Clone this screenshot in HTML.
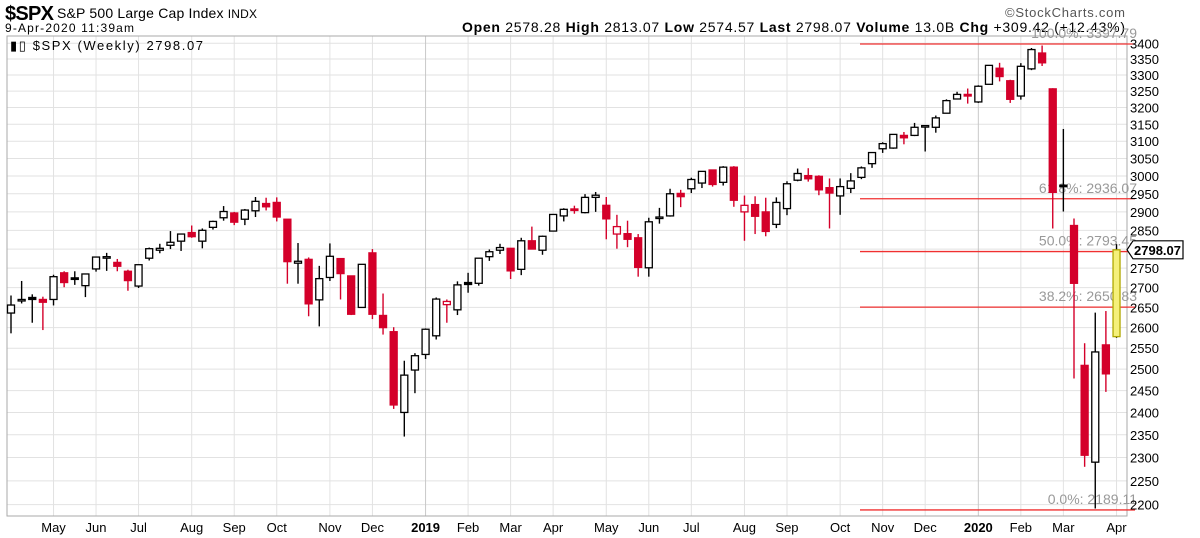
<!DOCTYPE html>
<html><head><meta charset="utf-8"><style>
body{margin:0;background:#fff;}
svg{display:block;font-family:"Liberation Sans",sans-serif;}
</style></head><body>
<svg id="chart" width="1200" height="538" viewBox="0 0 1200 538">
<rect width="1200" height="538" fill="#fff"/>
<g>
<text x="5" y="20" font-size="20" font-weight="bold" textLength="49">$SPX</text>
<text x="57" y="18" font-size="14" textLength="200">S&amp;P 500 Large Cap Index <tspan font-size="12">INDX</tspan></text>
<text x="5" y="32" font-size="12" textLength="129">9-Apr-2020 11:39am</text>
<text x="462" y="32" font-size="14" textLength="663"><tspan font-weight="bold">Open</tspan> 2578.28  <tspan font-weight="bold">High</tspan> 2813.07  <tspan font-weight="bold">Low</tspan> 2574.57  <tspan font-weight="bold">Last</tspan> 2798.07  <tspan font-weight="bold">Volume</tspan> 13.0B  <tspan font-weight="bold">Chg</tspan> +309.42 (+12.43%)</text>
<text x="1005" y="17" font-size="13" fill="#555" textLength="120">©StockCharts.com</text>
</g>
<g id="grid"></g>
<rect x="7" y="36" width="1120" height="480" fill="none" stroke="#aaa"/>
<g id="fib"></g>
<g id="candles"></g>
<g id="yaxis"></g>
<g id="xaxis"></g>
<text x="10" y="50" font-size="13" textLength="193">▮▯ $SPX (Weekly) 2798.07</text>
</svg>
<script>
const opens=[2636,2670,2675,2670,2670,2738,2725,2705,2748,2780,2765,2742,2704,2776,2797,2810,2821,2844,2821,2858,2884,2897,2880,2903,2923,2926,2880,2763,2773,2669,2726,2775,2730,2650,2790,2630,2590,2400,2498,
2535,2580,2657,2644,2713,2711,2780,2797,2802,2747,2822,2797,2848,2889,2908,2898,2940,2918,2840,2841,2830,2751,2885,2889,2951,2964,2980,3017,2982,3025,2900,2920,2900,2866,2909,2988,3001,2999,2967,2944,2965,2996,3035,3078,3080,3117,3117,3144,3141,3183,3226,3240,
3217,3271,3321,3282,3235,3319,3369,3257,2974,2863,2509,2290,2558,2578];
const highs=[2680,2717,2683,2677,2733,2742,2742,2736,2779,2790,2774,2746,2760,2804,2814,2848,2839,2863,2855,2876,2916,2900,2908,2941,2939,2940,2880,2816,2778,2756,2815,2775,2730,2760,2800,2685,2601,2520,2538,
2598,2675,2670,2716,2738,2775,2799,2814,2803,2830,2860,2836,2893,2910,2917,2949,2955,2941,2892,2876,2840,2884,2911,2964,2961,2995,3014,3018,3028,3028,2945,2943,2939,2940,2985,3021,3022,3002,2993,2993,3008,3027,3066,3097,3120,3127,3154,3144,3176,3225,3248,3258,
3268,3329,3338,3285,3337,3385,3393,3259,3136,2882,2562,2637,2641,2813];
const lows=[2586,2660,2612,2594,2655,2701,2707,2676,2741,2743,2742,2692,2699,2770,2789,2800,2795,2830,2802,2852,2876,2864,2864,2886,2904,2874,2710,2710,2628,2603,2717,2670,2631,2650,2621,2583,2408,2346,2444,
2524,2571,2612,2631,2687,2705,2769,2787,2722,2732,2800,2785,2848,2874,2895,2896,2900,2826,2801,2805,2728,2728,2868,2887,2913,2952,2966,2970,2973,2914,2822,2840,2834,2856,2891,2985,2984,2946,2855,2892,2952,2991,3023,3066,3078,3091,3115,3070,3125,3183,3225,3212,
3214,3271,3280,3214,3224,3315,3328,2855,2901,2478,2280,2192,2447,2575];
const closes=[2656,2670,2670,2663,2728,2713,2721,2735,2779,2780,2755,2718,2759,2801,2802,2818,2840,2833,2850,2874,2901,2872,2905,2929,2914,2886,2767,2768,2659,2723,2781,2736,2633,2760,2633,2600,2417,2486,2532,
2596,2671,2665,2707,2708,2776,2793,2804,2743,2822,2800,2834,2893,2907,2905,2940,2946,2881,2860,2826,2752,2873,2886,2950,2942,2990,3013,2976,3025,2932,2918,2888,2847,2926,2978,3007,2992,2961,2952,2970,2986,3023,3067,3093,3120,3110,3141,3146,3169,3221,3240,3235,
3265,3330,3295,3225,3327,3380,3338,2954,2972,2711,2305,2541,2489,2798];
const yTicks=[2200,2250,2300,2350,2400,2450,2500,2550,2600,2650,2700,2750,2800,2850,2900,2950,3000,3050,3100,3150,3200,3250,3300,3350,3400];
const fibLevels=[3397.79,2936.07,2793.45,2650.83,2189.11];
const fibLabels=["100.0%: 3397.79","61.8%: 2936.07","50.0%: 2793.45","38.2%: 2650.83","0.0%: 2189.11"];
const monthNames=["2018","Feb","Mar","Apr","May","Jun","Jul","Aug","Sep","Oct","Nov","Dec"];
const lastPrice=2798.07;

const NS="http://www.w3.org/2000/svg";
const X0=11,STEP=10.63,LTOP=Math.log(3397.79),K=1059.8;
const xs=i=>X0+i*STEP;
const ys=v=>44+(LTOP-Math.log(v))*K;
function mk(tag,attrs,parent){const e=document.createElementNS(NS,tag);for(const k in attrs)e.setAttribute(k,attrs[k]);parent.appendChild(e);return e;}
const grid=document.getElementById('grid'),yax=document.getElementById('yaxis'),xax=document.getElementById('xaxis'),cg=document.getElementById('candles'),fg=document.getElementById('fib');
yTicks.forEach(v=>{
 const l=mk('line',{x1:7,x2:1127,y1:ys(v),y2:ys(v),stroke:'#e2e2e2'},grid);
 
 
 const t=mk('text',{x:1130,y:ys(v)+5,'font-size':13},yax);
 t.textContent=v;
 
 
});
const start=new Date(2018,3,9);
for(let i=0;i<opens.length;i++){
 const d=new Date(start.getTime()+i*7*86400000);
 if(d.getDate()<=7){
  const x=xs(i);
  const l=mk('line',{x1:x,x2:x,y1:36,y2:516,stroke:d.getMonth()==0?'#c8c8c8':'#e2e2e2'},grid);
  
  
  const t=mk('text',{x:x,y:532,'font-size':13,'text-anchor':'middle'},xax);
  t.textContent=d.getMonth()==0?String(d.getFullYear()):monthNames[d.getMonth()];
  if(d.getMonth()==0)t.setAttribute('font-weight','bold');
  
  
 }
}
fibLevels.forEach((v,i)=>{
 const l=mk('line',{x1:860,x2:1135,y1:ys(v),y2:ys(v),stroke:'#f03030','stroke-width':1.3},fg);
 
 
 const t=mk('text',{x:1137,y:ys(v)-6,'font-size':14,fill:'#999','text-anchor':'end'},fg);
 t.textContent=fibLabels[i];
 
 
});
for(let i=0;i<opens.length;i++){
 const o=opens[i],h=highs[i],lo=lows[i],c=closes[i];
 const prev=i>0?closes[i-1]:o;
 const last=i==opens.length-1;
 const col=c<prev?'#d4002a':'#000';
 const x=xs(i);
 const g=mk('g',{},cg);
 
 
 mk('line',{x1:x,x2:x,y1:ys(h),y2:ys(lo),stroke:col,'stroke-width':1.4},g);
 const top=ys(Math.max(o,c)),bot=ys(Math.min(o,c));
 const hgt=Math.max(bot-top,1.5);
 let fill=c<o?col:'#fff';
 if(last)fill='#f5f07a';
 mk('rect',{x:x-3.5,y:top,width:7,height:hgt,fill:fill,stroke:last?'#b0a800':col,'stroke-width':1.3},g);
}
const py=ys(lastPrice);
const pb=mk('path',{d:`M1127 ${py} L1133 ${py-9} L1183 ${py-9} L1183 ${py+9} L1133 ${py+9} Z`,fill:'#fff',stroke:'#000','stroke-width':1.2},yax);


const pt=mk('text',{x:1134,y:py+5,'font-size':13,'font-weight':'bold'},yax);
pt.textContent=lastPrice.toFixed(2);


</script>
</body></html>
